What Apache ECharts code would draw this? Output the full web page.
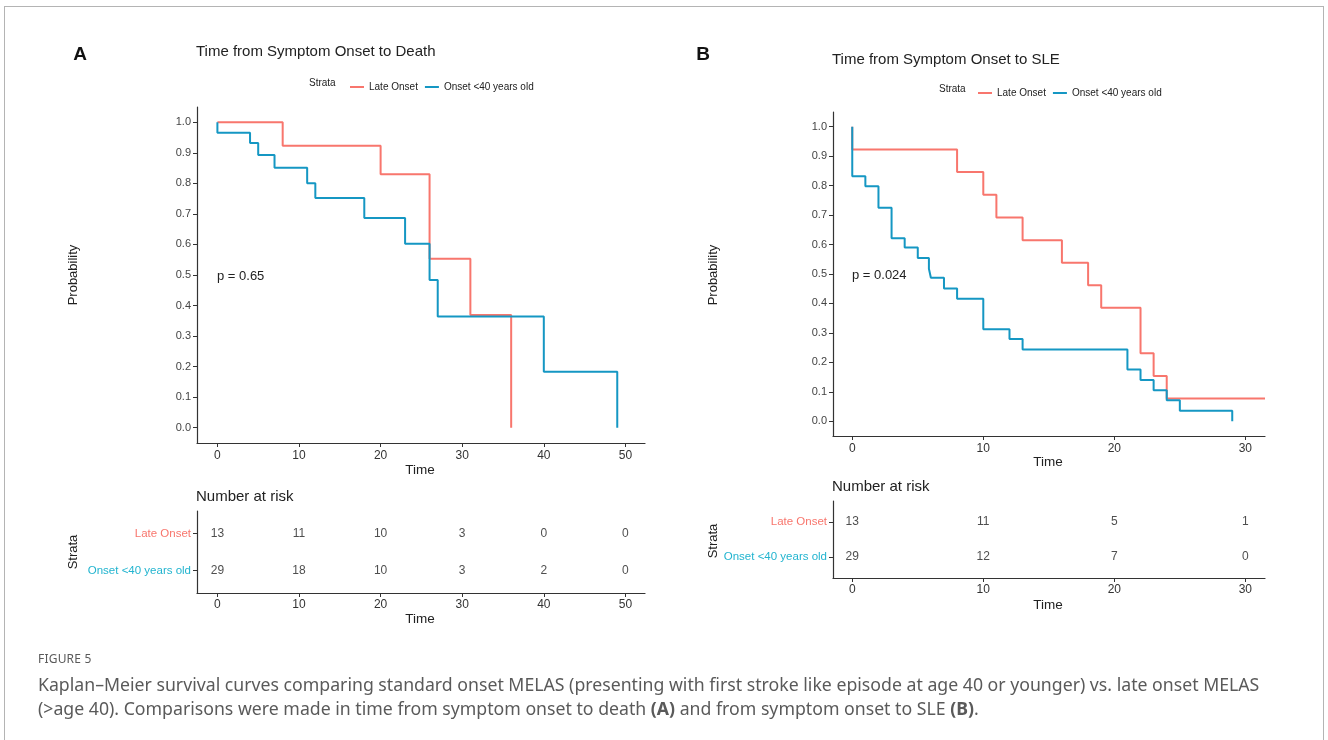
<!DOCTYPE html>
<html lang="en">
<head>
<meta charset="UTF-8">
<title>Figure 5</title>
<style>
  body { margin: 0; background: #fff; }
  #frame { position: absolute; left: 4px; top: 6px; width: 1318px; height: 760px; border: 1px solid #b4b4b4; border-bottom: none; }
  #main { position: absolute; left: 0; top: 0; width: 1328px; height: 740px; }
  #caption { position: absolute; left: 38px; top: 650px; width: 1280px; font-family: "Noto Sans", sans-serif; color: #5a5a5a; }
  #caption .fig { font-size: 12px; letter-spacing: 0.2px; margin-bottom: 5px; }
  #caption .txt { font-size: 17.7px; line-height: 24px; white-space: nowrap; }
</style>
</head>
<body>
<div id="frame"></div>
<div id="main"></div>
<div id="caption">
  <div class="fig">FIGURE 5</div>
  <div class="txt">Kaplan–Meier survival curves comparing standard onset MELAS (presenting with first stroke like episode at age 40 or younger) vs. late onset MELAS<br>(&gt;age 40). Comparisons were made in time from symptom onset to death <b>(A)</b> and from symptom onset to SLE <b>(B)</b>.</div>
</div>
<script src="https://cdn.jsdelivr.net/npm/echarts@6.0.0/dist/echarts.min.js"></script>
<script>
// panel A: time from symptom onset to death
const deathLateTime = [0, 8, 20, 26, 31, 36];
const deathLateSurv = [1.0, 0.923, 0.83, 0.553, 0.369, 0];
const deathYoungTime = [0, 0, 4, 5, 7, 11, 12, 18, 23, 26, 27, 40, 49];
const deathYoungSurv = [1.0, 0.966, 0.932, 0.893, 0.851, 0.80, 0.752, 0.687, 0.602, 0.484, 0.364, 0.183, 0];
const deathRiskTimes = [0, 10, 20, 30, 40, 50];
const deathRiskLate = [13, 11, 10, 3, 0, 0];
const deathRiskYoung = [29, 18, 10, 3, 2, 0];
const deathTicks = [0, 10, 20, 30, 40, 50];

// panel B: time from symptom onset to SLE
const sleLateTime = [0, 0, 8, 10, 11, 13, 16, 18, 19, 22, 23, 24, 31.5];
const sleLateSurv = [1.0, 0.923, 0.846, 0.769, 0.692, 0.615, 0.538, 0.462, 0.385, 0.231, 0.154, 0.077, 0.077];
const sleYoungTime = [0, 0, 1, 2, 3, 4, 5, 5.85, 6, 7, 8, 10, 12, 13, 21, 22, 23, 24, 25, 29];
const sleYoungSurv = [1.0, 0.832, 0.798, 0.725, 0.621, 0.59, 0.554, 0.518, 0.487, 0.451, 0.416, 0.312, 0.279, 0.244, 0.176, 0.14, 0.105, 0.071, 0.036, 0];
const sleRiskTimes = [0, 10, 20, 30];
const sleRiskLate = [13, 11, 5, 1];
const sleRiskYoung = [29, 12, 7, 0];
const sleTicks = [0, 10, 20, 30];

const probTicks = [0, 0.1, 0.2, 0.3, 0.4, 0.5, 0.6, 0.7, 0.8, 0.9, 1.0];
const strata = ['Late Onset', 'Onset <40 years old'];

const RED = '#F8766D';
const BLUE = '#1597C3';
const CYAN = '#22B4CF';
const FONT = '"Liberation Sans", Arial, sans-serif';
const AXIS = '#333';

const zip = (xs, ys) => xs.map((x, i) => [x, ys[i]]);

function timeAxis(grid, min, max, ticks, margin) {
    return {
        type: 'value', gridIndex: grid, min: min, max: max,
        splitLine: { show: false },
        axisLine: { show: true, onZero: false, lineStyle: { color: AXIS, width: 1.2 } },
        axisTick: { show: true, length: 4, customValues: ticks, lineStyle: { color: AXIS } },
        axisLabel: { customValues: ticks, margin: margin, fontSize: 12, color: '#333', fontFamily: FONT }
    };
}

function probAxis(grid) {
    return {
        type: 'value', gridIndex: grid, min: -0.05, max: 1.05,
        splitLine: { show: false },
        axisLine: { show: true, onZero: false, lineStyle: { color: AXIS, width: 1.2 } },
        axisTick: { show: true, length: 4, customValues: probTicks, lineStyle: { color: AXIS } },
        axisLabel: { customValues: probTicks, margin: 6, fontSize: 11, color: '#444', fontFamily: FONT,
            formatter: v => v.toFixed(1) }
    };
}

function riskAxis(grid) {
    return {
        type: 'value', gridIndex: grid, min: 0.4, max: 2.6,
        splitLine: { show: false },
        axisLine: { show: true, onZero: false, lineStyle: { color: AXIS, width: 1.2 } },
        axisTick: { show: true, length: 4, customValues: [1, 2], lineStyle: { color: AXIS } },
        axisLabel: { customValues: [1, 2], margin: 6, fontSize: 11.5, fontFamily: FONT,
            formatter: v => v === 2 ? strata[0] : strata[1],
            color: v => (v === 2 || v === '2') ? RED : CYAN }
    };
}

function curve(name, grid, xs, ys, color) {
    return {
        name: name, type: 'line', xAxisIndex: grid, yAxisIndex: grid,
        step: 'end', symbol: 'none', data: zip(xs, ys),
        lineStyle: { color: color, width: 2 }, itemStyle: { color: color },
        animation: false
    };
}

function riskRow(grid, times, counts, row) {
    return {
        type: 'scatter', xAxisIndex: grid, yAxisIndex: grid,
        data: times.map((t, i) => [t, row, counts[i]]),
        symbolSize: 1, itemStyle: { color: 'transparent' },
        label: { show: true, position: 'inside', formatter: p => p.value[2],
            fontSize: 12, color: '#222', fontFamily: FONT },
        silent: true, animation: false
    };
}

function txt(x, y, text, size, opts) {
    return Object.assign({
        type: 'text', x: x, y: y,
        style: Object.assign({ text: text, fontSize: size, fontFamily: FONT, fill: '#222',
            textAlign: 'left', textVerticalAlign: 'middle' }, (opts && opts.style) || {})
    }, opts && opts.rotation ? { rotation: opts.rotation } : {});
}

const chart = echarts.init(document.getElementById('main'));
const R = Math.PI / 2;

const option = {
    backgroundColor: 'transparent',
    animation: false,
    grid: [
        { left: 197, top: 107, width: 448, height: 336 },
        { left: 833, top: 112, width: 432, height: 324 },
        { left: 197, top: 511, width: 448, height: 82 },
        { left: 833, top: 501, width: 432, height: 77 }
    ],
    xAxis: [
        timeAxis(0, -2.5, 52.4, deathTicks, 7),
        timeAxis(1, -1.47, 31.5, sleTicks, 7),
        timeAxis(2, -2.5, 52.4, deathTicks, 6),
        timeAxis(3, -1.47, 31.5, sleTicks, 6)
    ],
    yAxis: [probAxis(0), probAxis(1), riskAxis(2), riskAxis(3)],
    legend: [
        { data: strata, left: 345, top: 77, itemWidth: 14, itemHeight: 2, itemGap: 7, icon: 'rect',
          textStyle: { fontSize: 10, color: '#222', fontFamily: FONT }, selectedMode: false },
        { data: strata, left: 973, top: 83, itemWidth: 14, itemHeight: 2, itemGap: 7, icon: 'rect',
          textStyle: { fontSize: 10, color: '#222', fontFamily: FONT }, selectedMode: false }
    ],
    series: [
        curve(strata[0], 0, deathLateTime, deathLateSurv, RED),
        curve(strata[1], 0, deathYoungTime, deathYoungSurv, BLUE),
        curve(strata[0], 1, sleLateTime, sleLateSurv, RED),
        curve(strata[1], 1, sleYoungTime, sleYoungSurv, BLUE),
        riskRow(2, deathRiskTimes, deathRiskLate, 2),
        riskRow(2, deathRiskTimes, deathRiskYoung, 1),
        riskRow(3, sleRiskTimes, sleRiskLate, 2),
        riskRow(3, sleRiskTimes, sleRiskYoung, 1)
    ],
    graphic: [
        txt(80, 55, 'A', 19, { style: { fontWeight: 'bold', textAlign: 'center', fill: '#111' } }),
        txt(703, 55, 'B', 19, { style: { fontWeight: 'bold', textAlign: 'center', fill: '#111' } }),
        txt(196, 52, 'Time from Symptom Onset to Death', 15),
        txt(832, 60, 'Time from Symptom Onset to SLE', 15),
        txt(309, 83, 'Strata', 10),
        txt(939, 89, 'Strata', 10),
        txt(73, 275, 'Probability', 13, { rotation: R, style: { textAlign: 'center' } }),
        txt(713, 275, 'Probability', 13, { rotation: R, style: { textAlign: 'center' } }),
        txt(217, 276, 'p = 0.65', 13),
        txt(852, 275, 'p = 0.024', 13),
        txt(420, 470, 'Time', 13.5, { style: { textAlign: 'center' } }),
        txt(1048, 462, 'Time', 13.5, { style: { textAlign: 'center' } }),
        txt(196, 497, 'Number at risk', 15),
        txt(832, 487, 'Number at risk', 15),
        txt(73, 552, 'Strata', 13, { rotation: R, style: { textAlign: 'center' } }),
        txt(713, 541, 'Strata', 13, { rotation: R, style: { textAlign: 'center' } }),
        txt(420, 619, 'Time', 13.5, { style: { textAlign: 'center' } }),
        txt(1048, 605, 'Time', 13.5, { style: { textAlign: 'center' } })
    ]
};

chart.setOption(option);
</script>
</body>
</html>
